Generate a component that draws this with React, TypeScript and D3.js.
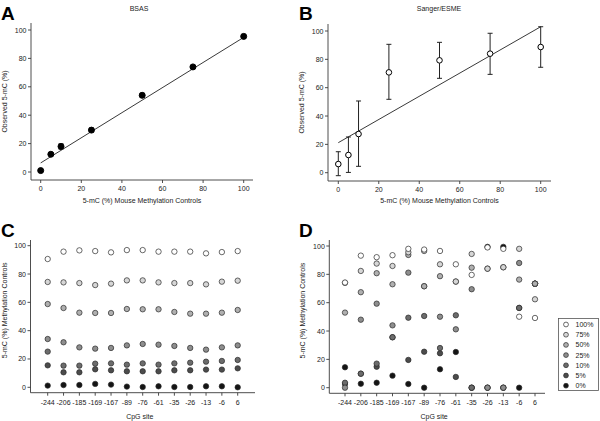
import React from "react";
import * as d3 from "d3";

// Panel A (BSAS)
const expected = [0, 5, 10, 25, 50, 75, 100];
const bsasMean = [1, 12.5, 18, 29.5, 54, 74, 95.5];
const bsasLow = [0.3, 11.5, 16, 28, 52.5, 73, 94];
const bsasHigh = [1.7, 13.5, 20, 31, 55.5, 75, 97];
const bsasFit = [6.4, 94.8]; // fit value at x=0, x=100

// Panel B (Sanger/ESME)
const esmeMean = [6.1, 12.5, 27.3, 70.8, 79.3, 84, 88.7];
const esmeLow = [-2.1, 0.2, 4.5, 51.8, 66.6, 69.4, 74.4];
const esmeHigh = [14.8, 25.2, 50.6, 90.6, 92, 98.4, 103];
const esmeFit = [21.2, 103];

const ticks = [0, 20, 40, 60, 80, 100];
const sites = ["-244", "-206", "-185", "-169", "-167", "-89", "-76", "-61", "-35", "-26", "-13", "-6", "6"];
const levels = ["100%", "75%", "50%", "25%", "10%", "5%", "0%"];
const levelColors = ["#ffffff", "#d6d6d6", "#b0b0b0", "#8e8e8e", "#6c6c6c", "#4c4c4c", "#141414"];

// Panel C (BSAS per CpG site), one array per control level
const c100 = [90.6, 95.8, 96.7, 96.2, 95.3, 96.9, 96.9, 95.8, 95.8, 95.8, 94.6, 95.5, 96.2];
const c75 = [74.4, 74.1, 73.6, 72.2, 73.2, 75.5, 75.5, 74.1, 73.6, 73.6, 72.7, 74.6, 75.3];
const c50 = [58.8, 56, 52.7, 52.5, 52.5, 55.3, 55.1, 55.1, 53.2, 52, 52, 52.7, 54.6];
const c25 = [34.1, 31.8, 28.2, 27.3, 27.8, 29.6, 30.6, 30.1, 29.2, 27.8, 26.6, 28.2, 29.6];
const c10 = [25.2, 15.3, 15.3, 16.7, 16.9, 16, 16.9, 16, 16.9, 17.4, 18.1, 18.6, 19.3];
const c5 = [15.5, 10.6, 10.6, 12.7, 12, 11.3, 11.3, 11.3, 12, 12, 12.5, 12.5, 13.4];
const c0 = [1.2, 1.6, 1.6, 2.4, 1.9, 0.5, 0.2, 0.7, 0.2, 0.2, 0.7, 0.7, 0];

// Panel D (Sanger/ESME per CpG site)
const d100 = [74.2, 93.2, 92.1, 93.5, 98, 97.5, 96.5, 87.1, 79.6, 99, 98, 50.1, 49.2];
const d75 = [74, 82.4, 87.6, 85.9, 95.6, 96.5, 87.1, 74.9, 94.4, 84, 85, 98, 62.4];
const d50 = [53, 67.4, 80.8, 73, 93.7, 71.6, 78.7, 74.9, 84.7, 84, 85, 76.3, 73.4];
const d25 = [0, 48, 59.3, 44, 81.2, 71.6, 50.1, 41.2, 69.5, 0, 0, 88, 73.4];
const d10 = [3.5, 9.9, 17, 35.6, 49.4, 50.6, 28, 51.1, 0, 0, 0, 56.3, 73.4];
const d5 = [2.6, 9.9, 14.8, 35.6, 19.6, 25.4, 24.3, 7.6, 0, 0, 0, 56.3, 73.4];
const d0 = [14.4, 2.8, 3.5, 8.5, 2.6, 0, 13, 25.2, 0, 99.4, 99.4, 0, 73.4];

const FONT = "'Liberation Sans', Arial, Helvetica, sans-serif";
const AX = "#3a3a3a";

type Frame = { x0: number; x1: number; yTop: number; yBot: number };

function YAxis({ y, x, top, bottom }: { y: d3.ScaleLinear<number, number>; x: number; top: number; bottom: number }) {
  return (
    <g>
      <line x1={x} x2={x} y1={top} y2={bottom} stroke={AX} strokeWidth={0.9} />
      {ticks.map((t) => (
        <g key={t}>
          <line x1={x - 3} x2={x} y1={y(t)} y2={y(t)} stroke={AX} strokeWidth={0.9} />
          <text x={x - 4.5} y={y(t) + 2.5} fontSize={7} textAnchor="end" fill="#222" fontFamily={FONT}>
            {t}
          </text>
        </g>
      ))}
    </g>
  );
}

function LinearPanel(props: {
  xr: [number, number];
  yr: [number, number];
  frame: Frame;
  title: string;
  titleX: number;
  letter: string;
  letterX: number;
  mean: number[];
  low: number[];
  high: number[];
  fit: number[];
  filled: boolean;
  errColor: string;
}) {
  const { xr, yr, frame, mean, low, high, fit } = props;
  const x = d3.scaleLinear().domain([0, 100]).range(xr);
  const y = d3.scaleLinear().domain([0, 100]).range(yr);
  const line = d3
    .line<[number, number]>()
    .x((d) => x(d[0]))
    .y((d) => y(d[1]));
  const cx = (frame.x0 + frame.x1) / 2;
  return (
    <g>
      <text x={props.letterX} y={20} fontSize={19} fontWeight="bold" fontFamily={FONT} fill="#000">
        {props.letter}
      </text>
      <text x={props.titleX} y={11} fontSize={7} textAnchor="middle" fontFamily={FONT} fill="#222">
        {props.title}
      </text>
      <YAxis y={y} x={frame.x0} top={frame.yTop} bottom={frame.yBot} />
      <line x1={frame.x0} x2={frame.x1} y1={frame.yBot} y2={frame.yBot} stroke={AX} strokeWidth={0.9} />
      {ticks.map((t) => (
        <g key={t}>
          <line x1={x(t)} x2={x(t)} y1={frame.yBot} y2={frame.yBot + 3} stroke={AX} strokeWidth={0.9} />
          <text x={x(t)} y={frame.yBot + 11} fontSize={7} textAnchor="middle" fill="#222" fontFamily={FONT}>
            {t}
          </text>
        </g>
      ))}
      <text x={cx} y={203} fontSize={7} textAnchor="middle" fill="#222" fontFamily={FONT}>
        5-mC (%) Mouse Methylation Controls
      </text>
      <text
        transform={`translate(${frame.x0 - 24},${(frame.yTop + frame.yBot) / 2}) rotate(-90)`}
        fontSize={7}
        textAnchor="middle"
        fill="#222"
        fontFamily={FONT}
      >
        Observed 5-mC (%)
      </text>
      <path d={line([[0, fit[0]], [100, fit[1]]]) || ""} stroke="#222" strokeWidth={0.9} fill="none" />
      {expected.map((e, i) => (
        <g key={e}>
          <line x1={x(e)} x2={x(e)} y1={y(low[i])} y2={y(high[i])} stroke={props.errColor} strokeWidth={1} />
          <line x1={x(e) - 2.5} x2={x(e) + 2.5} y1={y(low[i])} y2={y(low[i])} stroke={props.errColor} strokeWidth={1} />
          <line x1={x(e) - 2.5} x2={x(e) + 2.5} y1={y(high[i])} y2={y(high[i])} stroke={props.errColor} strokeWidth={1} />
        </g>
      ))}
      {expected.map((e, i) => (
        <circle
          key={"p" + e}
          cx={x(e)}
          cy={y(mean[i])}
          r={props.filled ? 3 : 2.8}
          fill={props.filled ? "#000" : "#fff"}
          stroke="#000"
          strokeWidth={1}
        />
      ))}
    </g>
  );
}

function SitePanel(props: {
  xr: [number, number];
  yr: [number, number];
  frame: Frame;
  letter: string;
  letterX: number;
  series: number[][];
}) {
  const { xr, yr, frame, series } = props;
  const x = d3.scalePoint<string>().domain(sites).range(xr);
  const y = d3.scaleLinear().domain([0, 100]).range(yr);
  const cx = (frame.x0 + frame.x1) / 2;
  const order = [6, 5, 4, 3, 2, 1, 0];
  return (
    <g>
      <text x={props.letterX} y={237} fontSize={19} fontWeight="bold" fontFamily={FONT} fill="#000">
        {props.letter}
      </text>
      <YAxis y={y} x={frame.x0} top={frame.yTop} bottom={frame.yBot} />
      <line x1={frame.x0} x2={frame.x1} y1={frame.yBot} y2={frame.yBot} stroke={AX} strokeWidth={0.9} />
      {sites.map((s) => (
        <g key={s}>
          <line x1={x(s)} x2={x(s)} y1={frame.yBot} y2={frame.yBot + 3} stroke={AX} strokeWidth={0.9} />
          <text x={x(s)} y={frame.yBot + 12} fontSize={7} textAnchor="middle" fill="#222" fontFamily={FONT}>
            {s}
          </text>
        </g>
      ))}
      <text x={cx - 3} y={419} fontSize={7} textAnchor="middle" fill="#222" fontFamily={FONT}>
        CpG site
      </text>
      <text
        transform={`translate(${frame.x0 - 24},${(frame.yTop + frame.yBot) / 2 - 6}) rotate(-90)`}
        fontSize={7}
        textAnchor="middle"
        fill="#222"
        fontFamily={FONT}
      >
        5-mC (%) Methylation Controls
      </text>
      {order.map((k) =>
        series[k].map((v, i) => (
          <circle
            key={k + "-" + i}
            cx={x(sites[i])}
            cy={y(v)}
            r={2.7}
            fill={levelColors[k]}
            stroke="#2a2a2a"
            strokeWidth={0.7}
          />
        ))
      )}
    </g>
  );
}

function Legend() {
  const x0 = 558.5;
  const y0 = 318.5;
  return (
    <g>
      <rect x={x0} y={y0} width={40} height={72} fill="#fff" stroke="#555" strokeWidth={0.8} />
      {levels.map((l, i) => (
        <g key={l}>
          <circle cx={566} cy={324.5 + i * 10.2} r={2.4} fill={levelColors[i]} stroke="#2a2a2a" strokeWidth={0.7} />
          <text x={575.5} y={327 + i * 10.2} fontSize={7} fill="#222" fontFamily={FONT}>
            {l}
          </text>
        </g>
      ))}
    </g>
  );
}

export default function App() {
  return (
    <div style={{ position: "absolute", left: 0, top: 0, width: 600, height: 421, background: "#fff" }}>
      <svg width={600} height={421} viewBox="0 0 600 421" style={{ display: "block" }}>
        <rect width={600} height={421} fill="#fff" />
        <LinearPanel
          xr={[40.7, 243.7]}
          yr={[172, 30]}
          frame={{ x0: 31, x1: 253, yTop: 23, yBot: 180 }}
          title="BSAS"
          titleX={139}
          letter="A"
          letterX={1}
          mean={bsasMean}
          low={bsasLow}
          high={bsasHigh}
          fit={bsasFit}
          filled={true}
          errColor="#666"
        />
        <LinearPanel
          xr={[338.3, 540.7]}
          yr={[172.7, 31]}
          frame={{ x0: 328, x1: 551, yTop: 24, yBot: 181 }}
          title="Sanger/ESME"
          titleX={439}
          letter="B"
          letterX={299}
          mean={esmeMean}
          low={esmeLow}
          high={esmeHigh}
          fit={esmeFit}
          filled={false}
          errColor="#222"
        />
        <SitePanel
          xr={[47.7, 237.7]}
          yr={[387.3, 245.7]}
          frame={{ x0: 30.5, x1: 255, yTop: 240, yBot: 392.7 }}
          letter="C"
          letterX={1}
          series={[c100, c75, c50, c25, c10, c5, c0]}
        />
        <SitePanel
          xr={[345, 535]}
          yr={[387.7, 246]}
          frame={{ x0: 329.3, x1: 545, yTop: 240, yBot: 393.3 }}
          letter="D"
          letterX={299}
          series={[d100, d75, d50, d25, d10, d5, d0]}
        />
        <Legend />
      </svg>
    </div>
  );
}
